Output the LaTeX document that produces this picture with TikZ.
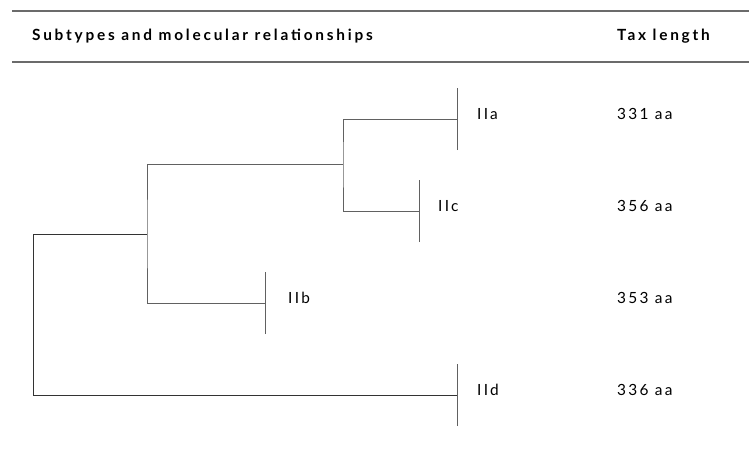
\documentclass[tikz,border=0pt]{standalone}
\usepackage{fontspec}
\setmainfont{Lato}[LetterSpace=15]
\newfontfamily\headfont{Lato}[LetterSpace=18]
\begin{document}
\begin{tikzpicture}[x=1pt,y=-1pt,
  branch/.style={draw=black!62, line width=1pt},
  rule/.style={draw=black!58, line width=1.4pt},
  head/.style={anchor=base west, inner sep=0pt, font=\fontsize{15.4}{18}\selectfont\headfont\bfseries},
  leaf/.style={anchor=base west, inner sep=0pt, font=\fontsize{15.4}{18}\selectfont},
  tick/.style={branch}]
\useasboundingbox (0,0) rectangle (749,458);

% header rules and titles
\coordinate (r1a) at (12,11);  \coordinate (r1b) at (749,11);
\coordinate (r2a) at (12,62);  \coordinate (r2b) at (749,62);
\draw[rule] (r1a) -- (r1b);
\draw[rule] (r2a) -- (r2b);
\node[head] (hsub) at (32,40.5) {Subtypes and molecular relationships};
\node[head] (htax) at (617,40.5) {Tax length};

% internal nodes and leaves of the tree
\coordinate (root) at (33,234);
\coordinate (cB) at (147,234);
\coordinate (cA) at (343,164);
\coordinate (IIa) at (457,119);
\coordinate (IIc) at (419,211);
\coordinate (IIb) at (265,303);
\coordinate (IId) at (457,395);

% branches
\draw[branch, draw=black!80] (cB) -- (root) |- (IId);
\draw[branch] (cA) -| (cB) |- (IIb);
\draw[branch] (IIa) -| (cA) |- (IIc);

% leaf ticks
\foreach \l in {IIa,IIc,IIb,IId}
  \draw[tick] ([yshift=-31pt]\l) -- ([yshift=31pt]\l);

% leaf labels
\node[leaf] (lIIa) at (477,119) {IIa};
\node[leaf] (lIIc) at (438,211) {IIc};
\node[leaf] (lIIb) at (288,303) {IIb};
\node[leaf] (lIId) at (477,395) {IId};

% lengths
\node[leaf] (nIIa) at (617,119) {331 aa};
\node[leaf] (nIIc) at (617,211) {356 aa};
\node[leaf] (nIIb) at (617,303) {353 aa};
\node[leaf] (nIId) at (617,395) {336 aa};
\end{tikzpicture}
\end{document}
